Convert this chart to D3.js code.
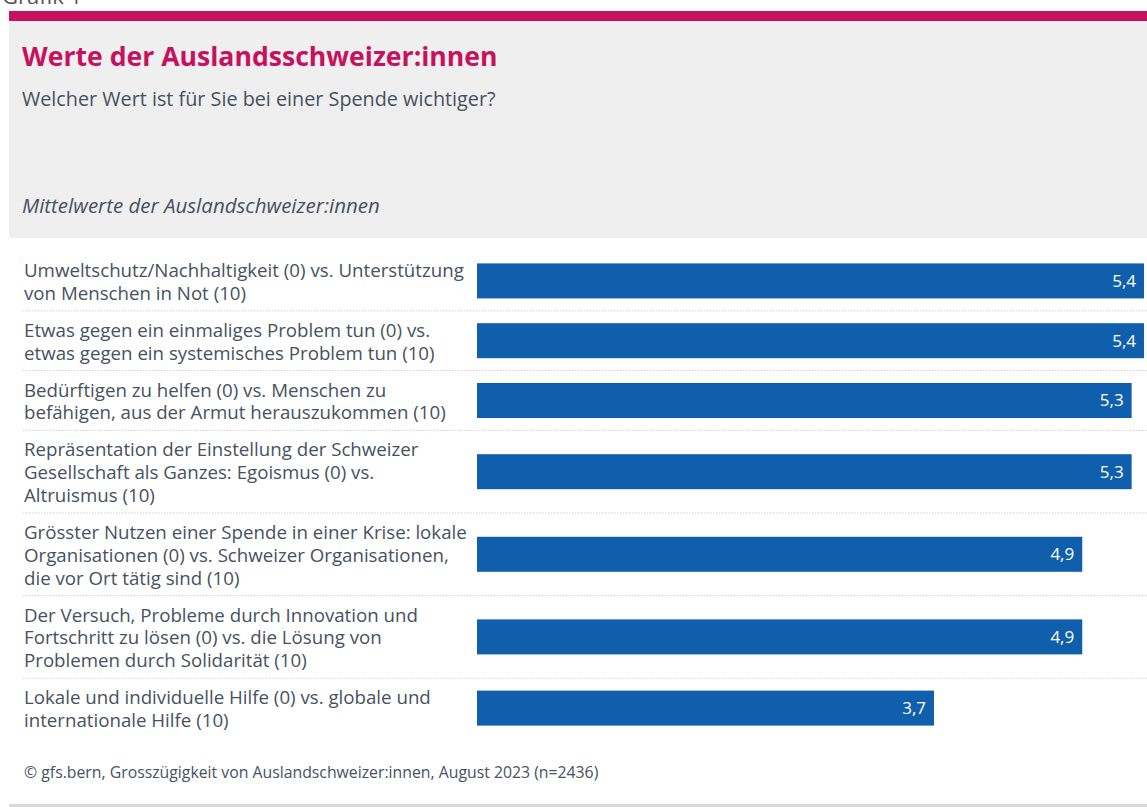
<!DOCTYPE html>
<html>
<head>
    <meta charset="utf-8">
    <title>Werte der Auslandsschweizer:innen</title>
    <script src="https://d3js.org/d3.v7.min.js"></script>
    <style>
        body { margin: 0; background: #fff; }
        svg { display: block; font-family: "Open Sans", sans-serif; }
    </style>
</head>
<body>
    <div id="container"></div>

    <script>
        // data
        var categories = [
            ["Umweltschutz/Nachhaltigkeit (0) vs. Unterstützung", "von Menschen in Not (10)"],
            ["Etwas gegen ein einmaliges Problem tun (0) vs.", "etwas gegen ein systemisches Problem tun (10)"],
            ["Bedürftigen zu helfen (0) vs. Menschen zu", "befähigen, aus der Armut herauszukommen (10)"],
            ["Repräsentation der Einstellung der Schweizer", "Gesellschaft als Ganzes: Egoismus (0) vs.", "Altruismus (10)"],
            ["Grösster Nutzen einer Spende in einer Krise: lokale", "Organisationen (0) vs. Schweizer Organisationen,", "die vor Ort tätig sind (10)"],
            ["Der Versuch, Probleme durch Innovation und", "Fortschritt zu lösen (0) vs. die Lösung von", "Problemen durch Solidarität (10)"],
            ["Lokale und individuelle Hilfe (0) vs. globale und", "internationale Hilfe (10)"]
        ];
        var values = [5.4, 5.4, 5.3, 5.3, 4.9, 4.9, 3.7];

        var title = "Werte der Auslandsschweizer:innen";
        var subtitle = "Welcher Wert ist für Sie bei einer Spende wichtiger?";
        var note = "Mittelwerte der Auslandschweizer:innen";
        var source = "© gfs.bern, Grosszügigkeit von Auslandschweizer:innen, August 2023 (n=2436)";

        var width = 1147, height = 807;
        var magenta = "#c6125e", blue = "#0f5fad", textCol = "#46525e";

        var locale = d3.formatLocale({decimal: ",", thousands: "'", grouping: [3], currency: ["", " CHF"]});
        var fmt = locale.format(".1f");

        var svg = d3.select("#container").append("svg")
            .attr("width", width)
            .attr("height", height);

        // header (the "Grafik" line is cut off at the top like in the original)
        svg.append("text")
            .attr("x", 2).attr("y", 4)
            .attr("font-size", 22)
            .attr("fill", "#555")
            .text("Grafik 1");

        svg.append("rect")
            .attr("x", 9).attr("y", 21)
            .attr("width", width - 9).attr("height", 217)
            .attr("fill", "#efefef");
        svg.append("rect")
            .attr("x", 9).attr("y", 11)
            .attr("width", width - 9).attr("height", 10)
            .attr("fill", magenta);

        svg.append("text")
            .attr("x", 22).attr("y", 66)
            .attr("font-size", 26.6)
            .attr("font-weight", "bold")
            .attr("fill", magenta)
            .text(title);

        svg.append("text")
            .attr("x", 22).attr("y", 106)
            .attr("font-size", 19.8)
            .attr("fill", textCol)
            .text(subtitle);

        svg.append("text")
            .attr("x", 22).attr("y", 213)
            .attr("font-size", 20.5)
            .attr("font-style", "italic")
            .attr("fill", textCol)
            .text(note);

        // rows: height depends on number of label lines
        var lineH = 22.8;
        var rowTop = 251;
        var rows = categories.map(function(lines, i) {
            var h = 37 + lineH * (lines.length - 1);
            var r = {lines: lines, value: values[i], y0: rowTop, h: h};
            rowTop += h;
            return r;
        });

        var x = d3.scaleLinear()
            .domain([0, d3.max(values)])
            .range([477, 1144]);

        var barH = 35;

        var row = svg.selectAll("g.row")
            .data(rows)
            .join("g")
            .attr("class", "row")
            .attr("transform", function(d) { return "translate(0," + d.y0 + ")"; });

        row.filter(function(d, i) { return i < rows.length - 1; })
            .append("line")
            .attr("x1", 23).attr("x2", width)
            .attr("y1", function(d) { return d.h; })
            .attr("y2", function(d) { return d.h; })
            .attr("stroke", "#cfcfcf")
            .attr("stroke-width", 1)
            .attr("stroke-dasharray", "1.5,1.5");

        row.append("text")
            .attr("font-size", 18.7)
            .attr("fill", textCol)
            .selectAll("tspan")
            .data(function(d) { return d.lines; })
            .join("tspan")
            .attr("x", 24)
            .attr("y", function(d, j) { return 26 + j * lineH; })
            .text(function(d) { return d; });

        row.append("rect")
            .attr("x", x(0))
            .attr("y", function(d) { return d.h / 2 - barH / 2; })
            .attr("width", function(d) { return x(d.value) - x(0); })
            .attr("height", barH)
            .attr("fill", blue);

        row.append("text")
            .attr("x", function(d) { return x(d.value) - 8; })
            .attr("y", function(d) { return d.h / 2 + 6; })
            .attr("text-anchor", "end")
            .attr("font-size", 17)
            .attr("fill", "#fff")
            .text(function(d) { return fmt(d.value); });

        // footer
        svg.append("text")
            .attr("x", 24).attr("y", 778)
            .attr("font-size", 15.8)
            .attr("fill", textCol)
            .text(source);

        svg.append("rect")
            .attr("x", 9).attr("y", 804)
            .attr("width", width - 9).attr("height", 3)
            .attr("fill", "#d9d9d9");
    </script>
</body>
</html>
